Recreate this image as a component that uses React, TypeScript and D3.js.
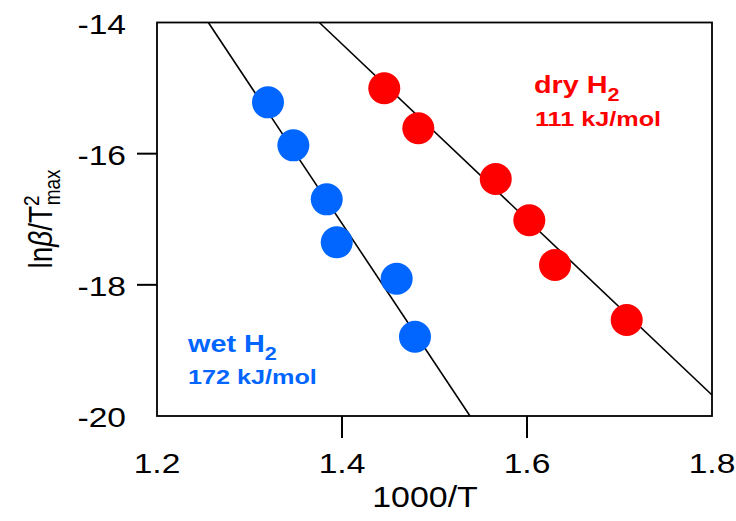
import React from "react";
import * as d3 from "d3";

const wetX = [1.320, 1.3474, 1.3835, 1.3943, 1.4591, 1.4789];
const wetY = [-15.217, -15.873, -16.696, -17.352, -17.907, -18.791];
const dryX = [1.4457, 1.4825, 1.5662, 1.6025, 1.6303, 1.7078];
const dryY = [-15.003, -15.613, -16.386, -17.016, -17.698, -18.536];
// linear fits: [slope, intercept]
const wetFit = [-21.21, 12.629];
const dryFit = [-13.38, 4.404];
const xTicks = [1.2, 1.4, 1.6, 1.8];
const yTicks = [-14, -16, -18, -20];
const xDomain = [1.2, 1.8];
const yDomain = [-20, -14];

const W = 736, H = 521;
const L = 157, R = 712, T = 22.5, B = 416;
const RED = "#ff0000";
const BLUE = "#0066ff";
const FONT = "'Liberation Sans', Arial, sans-serif";
const SX = 1.2;

function T2({ x, y, anchor = "start", size, bold = false, fill = "#000", sx = SX, children }: any) {
  return (
    <g transform={`translate(${x},${y}) scale(${sx},1)`}>
      <text x={0} y={0} textAnchor={anchor} fontSize={size} fontWeight={bold ? "bold" : "normal"} fill={fill}>
        {children}
      </text>
    </g>
  );
}

export default function App() {
  const x = d3.scaleLinear().domain(xDomain).range([L, R]);
  const y = d3.scaleLinear().domain(yDomain).range([B, T]);

  const fitLine = (fit: number[]) => {
    const [m, b] = fit;
    const xa = Math.max(xDomain[0], (yDomain[1] - b) / m);
    const xb = Math.min(xDomain[1], (yDomain[0] - b) / m);
    const all: [number, number][] = [[xa, m * xa + b], [xb, m * xb + b]];
    return d3.line<[number, number]>().x((d) => x(d[0])).y((d) => y(d[1]))(all) || "";
  };

  const interiorX = xTicks.filter((t) => t !== xDomain[0] && t !== xDomain[1]);
  const interiorY = yTicks.filter((t) => t !== yDomain[0] && t !== yDomain[1]);

  return (
    <svg width={W} height={H} style={{ position: "absolute", left: 0, top: 0 }} fontFamily={FONT}>
      <rect x={0} y={0} width={W} height={H} fill="#fff" />
      <path d={fitLine(wetFit)} stroke="#000" strokeWidth={1.6} fill="none" />
      <path d={fitLine(dryFit)} stroke="#000" strokeWidth={1.6} fill="none" />
      {wetX.map((v, i) => (
        <circle key={"w" + i} cx={x(v)} cy={y(wetY[i])} r={16} fill={BLUE} />
      ))}
      {dryX.map((v, i) => (
        <circle key={"d" + i} cx={x(v)} cy={y(dryY[i])} r={16} fill={RED} />
      ))}
      <rect x={L} y={T} width={R - L} height={B - T} fill="none" stroke="#000" strokeWidth={1.8} />
      {interiorX.map((t) => (
        <line key={"xt" + t} x1={x(t)} x2={x(t)} y1={B} y2={B + 22} stroke="#000" strokeWidth={2} />
      ))}
      {interiorY.map((t) => (
        <line key={"yt" + t} x1={L - 20} x2={L} y1={y(t)} y2={y(t)} stroke="#000" strokeWidth={2} />
      ))}
      {xTicks.map((t) => (
        <T2 key={"xl" + t} x={x(t)} y={473} anchor="middle" size={28}>
          {d3.format(".1f")(t)}
        </T2>
      ))}
      {yTicks.map((t) => (
        <T2 key={"yl" + t} x={126} y={y(t) + 11} anchor="end" size={28}>
          {String(t)}
        </T2>
      ))}
      <T2 x={425} y={507} anchor="middle" size={30} sx={1.13}>1000/T</T2>
      <g transform={`translate(52,219) scale(${SX},1) rotate(-90)`}>
        <text x={0} y={0} textAnchor="middle" fontSize={28} fill="#000">
          ln<tspan fontStyle="italic">β</tspan>/T<tspan fontSize={19} dy={-11}>2</tspan>
          <tspan fontSize={19} dy={18} dx={-10}>max</tspan>
        </text>
      </g>
      <T2 x={534} y={93} size={24} bold fill={RED}>
        dry H<tspan fontSize={18} dy={8}>2</tspan>
      </T2>
      <T2 x={535} y={126} size={21} bold fill={RED}>111 kJ/mol</T2>
      <T2 x={188} y={352} size={24} bold fill={BLUE}>
        wet H<tspan fontSize={18} dy={8}>2</tspan>
      </T2>
      <T2 x={188} y={384} size={21} bold fill={BLUE}>172 kJ/mol</T2>
    </svg>
  );
}
